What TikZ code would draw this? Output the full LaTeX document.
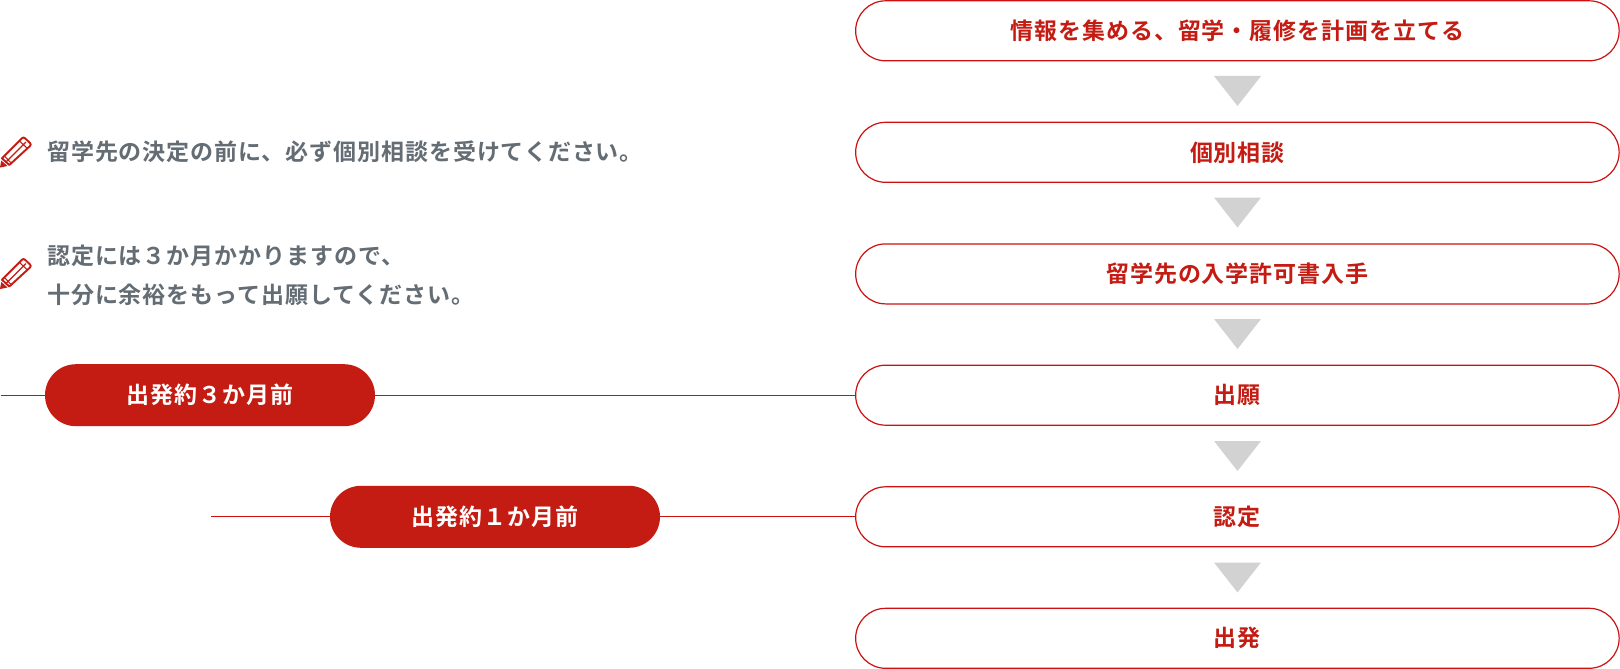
\documentclass[tikz,border=0pt]{standalone}
\usepackage{fontspec}
\setmainfont{Noto Sans CJK JP}[BoldFont={Noto Sans CJK JP Bold},LetterSpace=4]
\definecolor{rd}{HTML}{C41C12}
\definecolor{linerd}{HTML}{CC1111}
\definecolor{gy}{HTML}{D2D2D2}
\definecolor{tx}{HTML}{646C74}
\tikzset{
 x=1pt,y=-1pt,
 stepbox/.style={draw=linerd,line width=1.2pt,fill=white,rounded corners=30pt,minimum width=763.5pt,minimum height=60pt,inner sep=0pt,text=rd,font=\fontsize{23}{23}\selectfont\bfseries},
 pill/.style={fill=rd,rounded corners=31pt,minimum width=330pt,minimum height=62pt,inner sep=0pt,text=white,font=\fontsize{23}{23}\selectfont\bfseries},
 tri/.style={fill=gy},
 link/.style={draw=linerd,line width=1.2pt},
 note/.style={anchor=west,inner sep=0pt,text=tx,align=left,font=\fontsize{23}{39}\selectfont\bfseries},
 pen/.style={draw=rd,line width=1.9pt,line join=round}
}
\newcommand{\pencil}[2]{%
 \begin{scope}[shift={(#1,#2)}]
 \draw[pen] (2,21.3) -- (22,1.2) .. controls (23,0.2) and (24,0.2) .. (25,1.2) -- (30,6) .. controls (31,7) and (31,8) .. (30,9) -- (9.3,28) -- cycle;
 \draw[pen,line width=1.1pt] (6.5,24.5) -- (26,5) (19,3.5) -- (27,11) (4,18.5) -- (11,26);
 \fill[rd] (0,30.5) -- (1.3,23.5) -- (7.5,29) -- cycle;
 \end{scope}}
\begin{document}
\begin{tikzpicture}
\useasboundingbox (0,0) rectangle (1620,669);
\fill[white] (0,0) rectangle (1620,669);
\node[stepbox] (s1) at (1237.4,30.8) {情報を集める、留学・履修を計画を立てる};
\node[stepbox] (s2) at (1237.4,152.3) {個別相談};
\node[stepbox] (s3) at (1237.4,273.9) {留学先の入学許可書入手};
\node[stepbox] (s4) at (1237.4,395.2) {出願};
\node[stepbox] (s5) at (1237.4,516.8) {認定};
\node[stepbox] (s6) at (1237.4,638.3) {出発};
\foreach \y in {76,197.5,319,441,562.5} \fill[tri] (1214,\y) -- (1261,\y) -- (1237.5,\y+30) -- cycle;
\node[pill] (p1) at (210,395.2) {出発約３か月前};
\node[pill] (p2) at (495,516.8) {出発約１か月前};
\coordinate (e1) at (1,395.2);
\coordinate (e2) at (211,516.8);
\draw[link] (e1) -- (p1.west);
\draw[link] (p1.east) -- (s4.west);
\draw[link] (e2) -- (p2.west);
\draw[link] (p2.east) -- (s5.west);
\pencil{0}{137}
\pencil{0}{258.5}
\node[note] (n1) at (47,152) {留学先の決定の前に、必ず個別相談を受けてください。};
\node[note] (n2) at (47,275) {認定には３か月かかりますので、\\十分に余裕をもって出願してください。};
\end{tikzpicture}
\end{document}
